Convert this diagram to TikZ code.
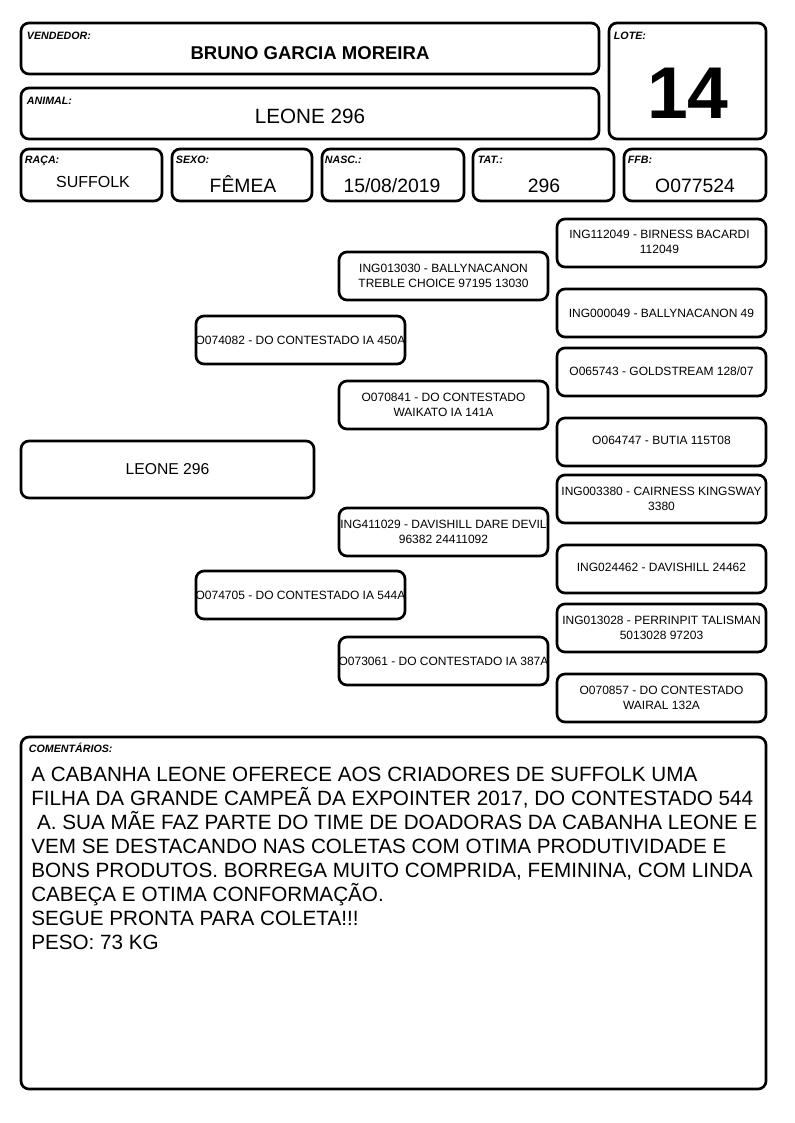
\documentclass[tikz,border=0pt]{standalone}
\usepackage{fontspec}
\setmainfont{Liberation Sans}
\usetikzlibrary{calc,positioning,fit}
\definecolor{tinta}{HTML}{000000}
\definecolor{fundo}{HTML}{FFFFFF}

\tikzset{
  caixa/.style={draw=tinta, line width=2pt, rounded corners=6pt, inner sep=0pt},
  rotulo/.style={anchor=base west, inner sep=0pt, text=tinta, font=\fontsize{8}{9}\selectfont\bfseries\itshape},
  valor/.style={inner sep=0pt, text=tinta, font=\fontsize{14.5}{16}\selectfont},
  ascend/.style={inner sep=0pt, align=center, text=tinta, font=\fontsize{9}{11.25}\selectfont},
}

\begin{document}
\begin{tikzpicture}[x=0.75pt, y=-0.75pt]
  \fill[fundo] (0,0) rectangle (794,1123);
  \useasboundingbox (0,0) rectangle (794,1123);

  % cabecalho
  \node[caixa, fit={(21,23) (599,74)}] (vend) {};
  \node[caixa, fit={(21,88) (599,139)}] (anim) {};
  \node[caixa, fit={(609,23) (766,139)}] (lote) {};
  \node[rotulo] at ($(vend.north west)+(7,18)$) {VENDEDOR:};
  \node[rotulo] at ($(anim.north west)+(7,18)$) {ANIMAL:};
  \node[rotulo] at ($(lote.north west)+(6,18)$) {LOTE:};
  \node[valor, font=\fontsize{13.9}{16}\selectfont\bfseries] (nomevend) at (310,53) {BRUNO GARCIA MOREIRA};
  \node[valor, font=\fontsize{15.5}{18}\selectfont] (nomeanim) at (310,116) {LEONE 296};
  \node[valor, font=\fontsize{55}{60}\selectfont\bfseries] (numlote) at (688,93) {14};

  % dados
  \node[caixa, fit={(21,149) (162,201)}] (raca) {};
  \node[caixa, fit={(172,149) (312,201)}] (sexo) {};
  \node[caixa, fit={(322,149) (464,201)}] (nasc) {};
  \node[caixa, fit={(473,149) (614,201)}] (tat) {};
  \node[caixa, fit={(624,149) (766,201)}] (ffb) {};
  \node[rotulo] at ($(raca.north west)+(5,16)$) {RAÇA:};
  \node[rotulo] at ($(sexo.north west)+(5,16)$) {SEXO:};
  \node[rotulo] at ($(nasc.north west)+(4,16)$) {NASC.:};
  \node[rotulo] at ($(tat.north west)+(6,16)$) {TAT.:};
  \node[rotulo] at ($(ffb.north west)+(5,16)$) {FFB:};
  \node[valor, anchor=base, font=\fontsize{12}{14}\selectfont] (vraca) at (93,188) {SUFFOLK};
  \node[valor, anchor=base] (vsexo) at (243,193) {FÊMEA};
  \node[valor, anchor=base] (vnasc) at (392,193) {15/08/2019};
  \node[valor, anchor=base] (vtat) at (544,193) {296};
  \node[valor, anchor=base] (vffb) at (695,193) {O077524};

  % genealogia
  \node[caixa, fit={(21,441) (314,498)}] (p0) {};
  \node[ascend, font=\fontsize{11.8}{14}\selectfont] at (p0) {LEONE 296};

  \node[caixa, fit={(196,316) (405,364)}] (p1) {};
  \node[ascend] at (p1) {O074082 - DO CONTESTADO IA 450A};
  \node[caixa, fit={(196,571) (405,619)}] (p2) {};
  \node[ascend] at (p2) {O074705 - DO CONTESTADO IA 544A};

  \node[caixa, fit={(339,252) (548,300)}] (p11) {};
  \node[ascend] at (p11) {ING013030 - BALLYNACANON\\TREBLE CHOICE 97195 13030};
  \node[caixa, fit={(339,381) (548,429)}] (p12) {};
  \node[ascend] at (p12) {O070841 - DO CONTESTADO\\WAIKATO IA 141A};
  \node[caixa, fit={(339,508) (548,556)}] (p21) {};
  \node[ascend] at (p21) {ING411029 - DAVISHILL DARE DEVIL\\96382 24411092};
  \node[caixa, fit={(339,637) (548,685)}] (p22) {};
  \node[ascend] at (p22) {O073061 - DO CONTESTADO IA 387A};

  \node[caixa, fit={(557,219) (766,267)}] (p111) {};
  \node[ascend] at ($(p111)+(-2,-1)$) {ING112049 - BIRNESS BACARDI\\112049};
  \node[caixa, fit={(557,289) (766,337)}] (p112) {};
  \node[ascend] at (p112) {ING000049 - BALLYNACANON 49};
  \node[caixa, fit={(557,348) (766,396)}] (p121) {};
  \node[ascend] at ($(p121)+(0,-1)$) {O065743 - GOLDSTREAM 128/07};
  \node[caixa, fit={(557,418) (766,466)}] (p122) {};
  \node[ascend] at ($(p122)+(0,-2)$) {O064747 - BUTIA 115T08};
  \node[caixa, fit={(557,475) (766,523)}] (p211) {};
  \node[ascend] at ($(p211)+(0,0)$) {ING003380 - CAIRNESS KINGSWAY\\3380};
  \node[caixa, fit={(557,545) (766,593)}] (p212) {};
  \node[ascend] at ($(p212)+(0,-2)$) {ING024462 - DAVISHILL 24462};
  \node[caixa, fit={(557,604) (766,652)}] (p221) {};
  \node[ascend] at (p221) {ING013028 - PERRINPIT TALISMAN\\5013028 97203};
  \node[caixa, fit={(557,674) (766,722)}] (p222) {};
  \node[ascend] at (p222) {O070857 - DO CONTESTADO\\WAIRAL 132A};

  % comentarios
  \node[caixa, fit={(21,737) (766,1089)}] (coment) {};
  \node[rotulo] at ($(coment.north west)+(9,17)$) {COMENTÁRIOS:};
  \node[anchor=north west, inner sep=0pt, align=left, text=tinta, font=\fontsize{15.5}{18}\selectfont] (texto) at (31,767) {%
    A CABANHA LEONE OFERECE AOS CRIADORES DE SUFFOLK UMA\\
    FILHA DA GRANDE CAMPEÃ DA EXPOINTER 2017, DO CONTESTADO 544\\
    \hspace*{0.28em}A. SUA MÃE FAZ PARTE DO TIME DE DOADORAS DA CABANHA LEONE E\\
    VEM SE DESTACANDO NAS COLETAS COM OTIMA PRODUTIVIDADE E\\
    BONS PRODUTOS. BORREGA MUITO COMPRIDA, FEMININA, COM LINDA\\
    CABEÇA E OTIMA CONFORMAÇÃO.\\
    SEGUE PRONTA PARA COLETA!!!\\
    PESO: 73 KG};
\end{tikzpicture}
\end{document}
